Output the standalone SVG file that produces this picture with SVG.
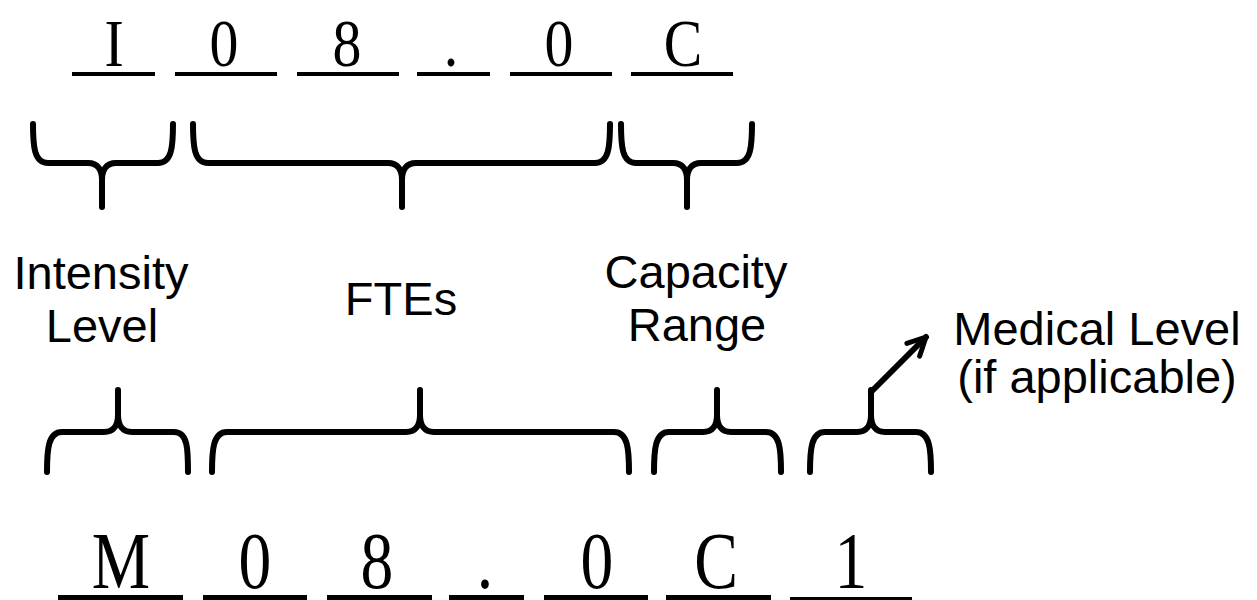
<svg xmlns="http://www.w3.org/2000/svg" width="1257" height="600" viewBox="0 0 1257 600">
<style>
.ch{font-family:"Liberation Serif","Times New Roman",serif;fill:#000;text-anchor:middle}
.top{font-size:68px}
.bot{font-size:80px}
.lbl{font-family:"Liberation Sans",Arial,sans-serif;font-size:47px;fill:#000;text-anchor:middle}
.ul{fill:#000}
.br{fill:none;stroke:#000;stroke-width:6;stroke-linecap:round;stroke-linejoin:round}
</style>
<defs>
<marker id="ah" viewBox="0 0 24 24" refX="21" refY="12" markerWidth="24" markerHeight="24" markerUnits="userSpaceOnUse" orient="auto">
<path d="M3,3 L21,12 L3,21" fill="none" stroke="#000" stroke-width="5" stroke-linecap="round" stroke-linejoin="round"/>
</marker>
</defs>
<rect width="1257" height="600" fill="#fff"/>
<g id="code-top">
<rect class="ul" x="72" y="72" width="83" height="4"/>
<rect class="ul" x="175" y="72" width="102" height="4"/>
<rect class="ul" x="297" y="72" width="102" height="4"/>
<rect class="ul" x="417" y="72" width="73" height="4"/>
<rect class="ul" x="510" y="72" width="102" height="4"/>
<rect class="ul" x="631" y="72" width="102" height="4"/>
<text class="ch top" transform="translate(114,66) scale(0.85,1)">I</text>
<text class="ch top" transform="translate(224,66) scale(0.85,1)">0</text>
<text class="ch top" transform="translate(347,66) scale(0.85,1)">8</text>
<text class="ch top" transform="translate(451,66) scale(0.85,1)">.</text>
<text class="ch top" transform="translate(559,66) scale(0.85,1)">0</text>
<text class="ch top" transform="translate(683,66) scale(0.85,1)">C</text>
</g>
<g id="code-bottom">
<rect class="ul" x="58" y="595" width="125" height="5"/>
<rect class="ul" x="203" y="595" width="104" height="5"/>
<rect class="ul" x="327" y="595" width="105" height="5"/>
<rect class="ul" x="449" y="595" width="75" height="5"/>
<rect class="ul" x="544" y="595" width="104" height="5"/>
<rect class="ul" x="666" y="595" width="105" height="5"/>
<rect class="ul" x="790" y="597" width="122" height="3"/>
<text class="ch bot" transform="translate(121,588) scale(0.82,1)">M</text>
<text class="ch bot" transform="translate(255,588) scale(0.82,1)">0</text>
<text class="ch bot" transform="translate(377,588) scale(0.82,1)">8</text>
<text class="ch bot" transform="translate(485,588) scale(0.82,1)">.</text>
<text class="ch bot" transform="translate(597,588) scale(0.82,1)">0</text>
<text class="ch bot" transform="translate(716,588) scale(0.82,1)">C</text>
<text class="ch bot" transform="translate(851,588) scale(0.82,1)">1</text>
</g>
<g id="label-intensity"><text class="lbl" x="101" y="289">Intensity</text><text class="lbl" x="102" y="342">Level</text></g>
<g id="label-ftes"><text class="lbl" x="401" y="315">FTEs</text></g>
<g id="label-capacity"><text class="lbl" x="696" y="288">Capacity</text><text class="lbl" x="697" y="341">Range</text></g>
<g id="label-medical"><text class="lbl" x="1097" y="345">Medical Level</text><text class="lbl" x="1097" y="393">(if applicable)</text></g>
<g id="connectors">
<path class="br" d="M33,124 C33,146 34,163 48,163 L88,163 C98,163 102,170 102,180 L102,207 M102,180 C102,170 106,163 116,163 L158,163 C172,163 173,146 173,124"/>
<path class="br" d="M193,124 C193,146 194,163 208,163 L388,163 C398,163 402,170 402,180 L402,207 M402,180 C402,170 406,163 416,163 L595,163 C609,163 610,146 610,124"/>
<path class="br" d="M621,124 C621,146 622,163 636,163 L673,163 C683,163 687,170 687,180 L687,207 M687,180 C687,170 691,163 701,163 L737,163 C751,163 752,146 752,124"/>
<path class="br" d="M47,472 C47,450 48,432 62,432 L104,432 C114,432 118,425 118,415 L118,390 M118,415 C118,425 122,432 132,432 L174,432 C188,432 188,450 188,472"/>
<path class="br" d="M212,472 C212,450 213,432 227,432 L406,432 C416,432 420,425 420,415 L420,390 M420,415 C420,425 424,432 434,432 L614,432 C628,432 629,450 629,472"/>
<path class="br" d="M654,472 C654,450 655,432 669,432 L703,432 C713,432 717,425 717,415 L717,390 M717,415 C717,425 721,432 731,432 L766,432 C780,432 781,450 781,472"/>
<path class="br" d="M810,472 C810,450 811,432 825,432 L857,432 C867,432 871,425 871,415 L871,390 M871,415 C871,425 875,432 885,432 L916,432 C930,432 931,450 931,472"/>
<path class="br" d="M871,392 L926,337" marker-end="url(#ah)"/>
</g>
</svg>
